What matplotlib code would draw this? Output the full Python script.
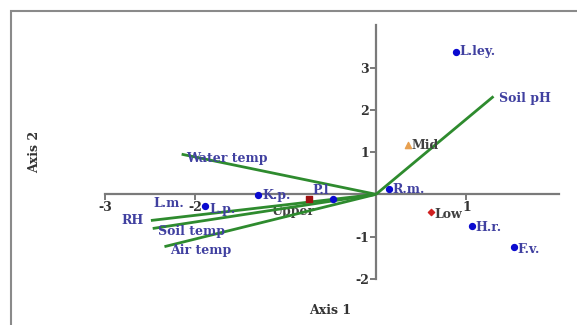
import matplotlib
matplotlib.use("Agg")
import matplotlib.pyplot as plt
from matplotlib.patches import Rectangle

# Species scores (blue points)
species = ["L.ley.", "R.m.", "H.r.", "F.v.", "K.p.", "P.l", "L.p."]
species_x = [0.88, 0.14, 1.06, 1.53, -1.30, -0.48, -1.89]
species_y = [3.38, 0.13, -0.74, -1.26, -0.02, -0.12, -0.28]

# Site groups
sites = ["Upper", "Mid", "Low"]
sites_x = [-0.74, 0.35, 0.61]
sites_y = [-0.10, 1.17, -0.43]

# Environmental vectors
env = ["Soil pH", "Water temp", "RH", "Soil temp", "Air temp"]
env_x = [1.30, -2.15, -2.49, -2.47, -2.34]
env_y = [2.32, 0.95, -0.62, -0.81, -1.24]

xticks = [-3, -2, 1]
yticks = [-2, -1, 1, 2, 3]

fig = plt.figure(figsize=(5.77, 3.25), dpi=100)
ax = fig.add_axes([0.1503, 0.0775, 0.846, 0.883])
ax.set_xlim(-3.2, 2.2)
ax.set_ylim(-2.5, 4.3)

serif = ["DejaVu Serif", "Liberation Serif"]
lab_col = "#4040a0"
gray_txt = "#404040"
FS = 9

# vectors
for ex, ey in zip(env_x, env_y):
    ax.plot([0, ex], [0, ey], color="#2e8b2e", lw=2.0, zorder=3, solid_capstyle="butt")

env_off = {"Soil pH": (0.06, -0.04, "left"), "Water temp": (0.05, -0.10, "left"),
           "RH": (-0.08, 0.0, "right"), "Soil temp": (0.06, -0.06, "left"),
           "Air temp": (0.06, -0.08, "left")}
for name, ex, ey in zip(env, env_x, env_y):
    dx, dy, ha = env_off[name]
    ax.text(ex + dx, ey + dy, name, color=lab_col, family=serif, fontweight="bold",
            fontsize=FS, ha=ha, va="center", zorder=5)

# species points
ax.scatter(species_x, species_y, s=18, color="#0a0ad0", zorder=4)
sp_off = {"L.ley.": (0.04, 0.0), "R.m.": (0.04, -0.02), "H.r.": (0.04, -0.04),
          "F.v.": (0.04, -0.05), "K.p.": (0.04, -0.02), "P.l": (-0.22, 0.22),
          "L.p.": (0.05, -0.07)}
for name, sx, sy in zip(species, species_x, species_y):
    dx, dy = sp_off[name]
    ax.text(sx + dx, sy + dy, name, color=lab_col, family=serif, fontweight="bold",
            fontsize=FS, ha="left", va="center", zorder=5)
# L.m. label (point overlapped)
ax.text(-2.46, -0.22, "L.m.", color=lab_col, family=serif, fontweight="bold",
        fontsize=FS, ha="left", va="center", zorder=5)

# site markers
ax.scatter([sites_x[0]], [sites_y[0]], marker="s", s=22, color="#a01010", zorder=4)
ax.scatter([sites_x[1]], [sites_y[1]], marker="^", s=20, color="#e8a050", zorder=4)
ax.scatter([sites_x[2]], [sites_y[2]], marker="D", s=10, color="#d02020", zorder=4)
site_off = {"Upper": (-0.42, -0.30), "Mid": (0.04, -0.02), "Low": (0.04, -0.06)}
for name, sx, sy in zip(sites, sites_x, sites_y):
    dx, dy = site_off[name]
    ax.text(sx + dx, sy + dy, name, color=gray_txt, family=serif, fontweight="bold",
            fontsize=FS, ha="left", va="center", zorder=2 if name == "Upper" else 5)

# axes through origin
for s in ["top", "right"]:
    ax.spines[s].set_visible(False)
ax.spines["left"].set_position(("data", 0))
ax.spines["bottom"].set_position(("data", 0))
ax.spines["bottom"].set_bounds(-3, 2.02)
ax.spines["left"].set_bounds(-2, 4.0)
for s in ["left", "bottom"]:
    ax.spines[s].set_color("#7a7a7a")
    ax.spines[s].set_linewidth(1.6)
ax.set_xticks(xticks)
ax.set_yticks(yticks)
ax.set_xticklabels([str(t) for t in xticks])
ax.set_yticklabels([str(t) for t in yticks])
ax.tick_params(axis="both", colors="#7a7a7a", width=1.4, length=4, labelsize=FS,
               labelcolor="#333333", pad=1)
for lbl in ax.get_xticklabels() + ax.get_yticklabels():
    lbl.set_family(serif)
    lbl.set_fontweight("bold")

fig.text(330 / 577, 1 - 311 / 325, "Axis 1", family=serif, fontweight="bold",
         fontsize=FS, color="#333333", ha="center", va="center")
fig.text(35 / 577, 1 - 152 / 325, "Axis 2", family=serif, fontweight="bold",
         fontsize=FS, color="#333333", ha="center", va="center", rotation=90)

# outer frame
fig.patches.append(Rectangle((11 / 577, -0.2), 1.2, 1.2 - 11 / 325,
                             transform=fig.transFigure, fill=False,
                             edgecolor="#8a8a8a", lw=1.5))

fig.savefig("out.png", dpi=100)
